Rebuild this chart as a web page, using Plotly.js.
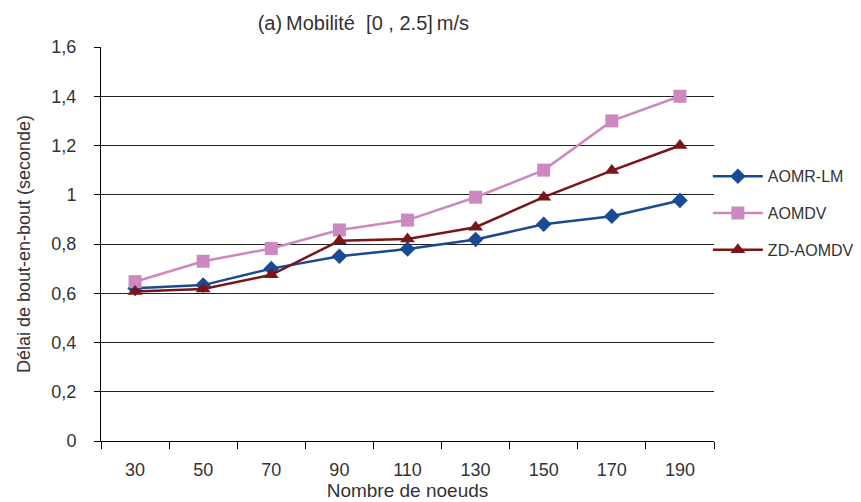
<!DOCTYPE html>
<html>
<head>
<meta charset="utf-8">
<script src="https://cdn.plot.ly/plotly-3.0.1.min.js"></script>
<style>html,body{margin:0;padding:0;background:#fff;}#chart{width:861px;height:502px;}</style>
</head>
<body>
<div id="chart"></div>
<script>
const categories = ['30','50','70','90','110','130','150','170','190'];
const aomrLM = [0.62, 0.633, 0.70, 0.75, 0.78, 0.818, 0.88, 0.913, 0.977];
const aomdv = [0.647, 0.73, 0.782, 0.857, 0.897, 0.99, 1.10, 1.30, 1.40];
const zdAomdv = [0.607, 0.617, 0.675, 0.813, 0.82, 0.868, 0.99, 1.098, 1.20];
const seriesNames = ['AOMR-LM', 'AOMDV', 'ZD-AOMDV'];
const yTicks = [0, 0.2, 0.4, 0.6, 0.8, 1, 1.2, 1.4, 1.6];

const font = 'Liberation Sans, Arial, sans-serif';
const textColor = '#333333';

const traces = [
  {x: categories, y: aomrLM, name: seriesNames[0], legendgroup: 'a', mode: 'lines+markers',
   line: {color: '#1A4A93', width: 2.5}, marker: {symbol: 'diamond', size: 12, color: '#1A4A93'}},
  {x: categories, y: aomdv, name: seriesNames[1], legendgroup: 'b', mode: 'lines+markers',
   line: {color: '#CC88BF', width: 2.5}, marker: {symbol: 'square', size: 13, color: '#CC88BF'}},
  {x: categories, y: zdAomdv, name: seriesNames[2], legendgroup: 'c', mode: 'lines+markers',
   line: {color: '#7A1518', width: 2.5}, marker: {symbol: 'triangle-up', size: 13, color: '#7A1518'}}
];

const layout = {
  width: 861, height: 502,
  paper_bgcolor: '#fff', plot_bgcolor: '#fff',
  separators: ', ',
  margin: {l: 101, r: 147, t: 47, b: 61, autoexpand: false},
  font: {family: font, color: textColor, size: 18},
  title: {text: '(a)\u2009Mobilité  [0 , 2.5]\u2009m/s', x: 0.422, xanchor: 'center', y: 0.955, yanchor: 'middle',
          font: {family: font, size: 20, color: textColor}},
  xaxis: {
    type: 'category', tickson: 'boundaries', ticks: 'outside', ticklen: 7, tickcolor: '#000',
    showline: true, linecolor: '#000', linewidth: 1, showgrid: false,
    tickfont: {family: font, size: 18, color: textColor},
    ticklabelstandoff: 12,
    title: {text: 'Nombre de noeuds', standoff: 3, font: {family: font, size: 19, color: textColor}},
    range: [-0.5, 8.5], fixedrange: true
  },
  yaxis: {
    range: [0, 1.6], tickvals: yTicks, ticks: 'outside', ticklen: 6, tickcolor: '#000',
    showline: true, linecolor: '#000', linewidth: 1,
    showgrid: true, gridcolor: '#222', gridwidth: 1, zeroline: false,
    tickfont: {family: font, size: 18, color: textColor},
    ticklabelstandoff: 14,
    title: {text: 'Délai de bout-en-bout (seconde)', standoff: 16, font: {family: font, size: 18, color: textColor}}
  },
  showlegend: true,
  legend: {
    x: 0.99, xanchor: 'left', y: 0.715, yanchor: 'top',
    font: {family: font, size: 16, color: textColor},
    itemwidth: 50, traceorder: 'grouped', tracegroupgap: 13,
    bgcolor: 'rgba(0,0,0,0)'
  }
};

Plotly.newPlot('chart', traces, layout, {displayModeBar: false, staticPlot: true});
</script>
</body>
</html>
